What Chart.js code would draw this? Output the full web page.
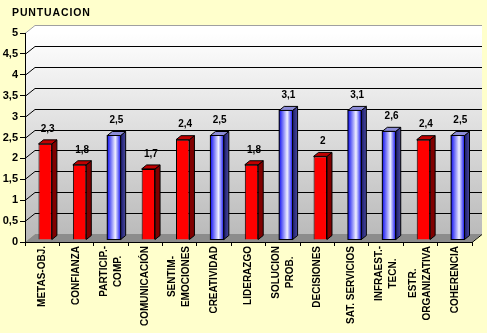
<!DOCTYPE html>
<html><head><meta charset="utf-8">
<script src="https://cdn.jsdelivr.net/npm/chart.js@4/dist/chart.umd.min.js"></script>
<style>html,body{margin:0;padding:0;background:#FFFFCC;} #wrap{width:487px;height:333px;position:relative;}</style>
</head><body><div id="wrap"><canvas id="c" width="487" height="333"></canvas></div>
<script>
const chartTitle = 'PUNTUACION';
const categories = [['METAS-OBJ.'],['CONFIANZA'],['PARTICIP.-','COMP.'],['COMUNICACIÓN'],['SENTIM-','EMOCIONES'],['CREATIVIDAD'],['LIDERAZGO'],['SOLUCION','PROB.'],['DECISIONES'],['SAT. SERVICIOS'],['INFRAEST.-','TECN.'],['ESTR.','ORGANIZATIVA'],['COHERENCIA']];
const scores = [2.3, 1.8, 2.5, 1.7, 2.4, 2.5, 1.8, 3.1, 2, 3.1, 2.6, 2.4, 2.5];
const barKinds = ['red','red','blue','red','red','blue','red','blue','red','blue','blue','red','blue'];
const yTicks = [0, 0.5, 1, 1.5, 2, 2.5, 3, 3.5, 4, 4.5, 5];

const FONT = '"Liberation Sans", Arial, sans-serif';
const WALL_DX = 10, WALL_DY = -8;   // depth of the 3D wall
const BAR_OX = 3, BAR_OY = -2;      // bar placement inside floor
const BAR_DX = 5, BAR_DY = -4;      // bar depth
const fmt = v => String(v).replace('.', ',');

const threeD = {
  id: 'threeD',
  beforeDraw(chart) {
    const {ctx, chartArea: a, scales: {y}} = chart;
    ctx.save();
    ctx.fillStyle = '#FFFFCC';
    ctx.fillRect(0, 0, chart.width, chart.height);
    ctx.fillStyle = '#000';
    ctx.font = 'bold 10.5px ' + FONT;
    ctx.textBaseline = 'middle';
    ctx.textAlign = 'left';
    ctx.fillText(chartTitle.split('').join(String.fromCharCode(8202)), 12, 13);
    const top = y.getPixelForValue(5), bot = y.getPixelForValue(0);
    let g = ctx.createLinearGradient(0, top, 0, bot);
    g.addColorStop(0, '#ffffff'); g.addColorStop(1, '#b8b8b8');
    ctx.fillStyle = g;
    ctx.beginPath();
    ctx.moveTo(a.left, top); ctx.lineTo(a.left + WALL_DX, top + WALL_DY);
    ctx.lineTo(a.left + WALL_DX, bot + WALL_DY); ctx.lineTo(a.left, bot); ctx.closePath(); ctx.fill();
    ctx.fillRect(a.left + WALL_DX, top + WALL_DY, a.right - a.left, bot - top);
    ctx.fillStyle = '#8c8c8c';
    ctx.beginPath();
    ctx.moveTo(a.left, bot); ctx.lineTo(a.left + WALL_DX, bot + WALL_DY);
    ctx.lineTo(a.right + WALL_DX, bot + WALL_DY); ctx.lineTo(a.right, bot); ctx.closePath(); ctx.fill();
    ctx.lineWidth = 1;
    yTicks.forEach(v => {
      if (v === 0) return;
      const py = Math.round(y.getPixelForValue(v)) + 0.5;
      ctx.strokeStyle = v === 5 ? '#a0a0a0' : '#000';
      ctx.beginPath();
      ctx.moveTo(a.left, py); ctx.lineTo(a.left + WALL_DX, py + WALL_DY);
      ctx.lineTo(a.right + WALL_DX, py + WALL_DY);
      ctx.stroke();
    });
    ctx.strokeStyle = '#000';
    ctx.beginPath();
    ctx.moveTo(a.right, Math.round(bot) + 0.5); ctx.lineTo(a.right + WALL_DX, Math.round(bot) + 0.5 + WALL_DY);
    ctx.stroke();
    ctx.restore();
  },
  beforeDatasetDraw(chart) {
    chart.ctx.save();
    chart.ctx.translate(BAR_OX, BAR_OY);
  },
  afterDatasetDraw(chart, args) {
    const ctx = chart.ctx;
    args.meta.data.forEach((bar, i) => {
      const l = bar.x - bar.width / 2, r = bar.x + bar.width / 2, t = bar.y, b = bar.base;
      const blue = barKinds[i] === 'blue';
      ctx.strokeStyle = '#000';
      ctx.lineWidth = 1;
      if (blue) {
        const fg = ctx.createLinearGradient(l, 0, r, 0);
        fg.addColorStop(0, '#1010f0'); fg.addColorStop(0.6, '#f0f0ff'); fg.addColorStop(1, '#1010f0');
        ctx.fillStyle = fg;
        ctx.fillRect(l, t, r - l, b - t);
        ctx.strokeRect(l, t, r - l, b - t);
      }
      let sg;
      if (blue) {
        sg = ctx.createLinearGradient(r, 0, r + BAR_DX, 0);
        sg.addColorStop(0, '#1a1a70'); sg.addColorStop(1, '#4a4a9a');
      } else sg = '#800000';
      ctx.fillStyle = sg;
      ctx.beginPath();
      ctx.moveTo(r, t); ctx.lineTo(r + BAR_DX, t + BAR_DY); ctx.lineTo(r + BAR_DX, b + BAR_DY); ctx.lineTo(r, b); ctx.closePath();
      ctx.fill(); ctx.stroke();
      ctx.fillStyle = blue ? '#8c8cd8' : '#c00000';
      ctx.beginPath();
      ctx.moveTo(l, t); ctx.lineTo(l + BAR_DX, t + BAR_DY); ctx.lineTo(r + BAR_DX, t + BAR_DY); ctx.lineTo(r, t); ctx.closePath();
      ctx.fill(); ctx.stroke();
      ctx.fillStyle = '#000';
      ctx.font = 'bold 10px ' + FONT;
      ctx.textAlign = 'center';
      ctx.textBaseline = 'bottom';
      ctx.fillText(fmt(scores[i]), bar.x + BAR_DX / 2, t + BAR_DY - 6);
    });
    ctx.restore();
  },
  afterDraw(chart) {
    const {ctx, scales: {x}, chartArea: a} = chart;
    ctx.save();
    ctx.fillStyle = '#000';
    ctx.font = 'bold 10px ' + FONT;
    ctx.textBaseline = 'middle';
    ctx.textAlign = 'center';
    const lineH = 14;
    categories.forEach((lines, i) => {
      const cx = x.getPixelForValue(i);
      const w = Math.max(...lines.map(s => ctx.measureText(s).width));
      const cy = a.bottom + 4 + w / 2;
      lines.forEach((s, j) => {
        const lx = cx + (j - (lines.length - 1) / 2) * lineH;
        ctx.save();
        ctx.translate(lx, cy);
        ctx.rotate(-Math.PI / 2);
        ctx.fillText(s, 0, 0);
        ctx.restore();
      });
    });
    ctx.restore();
  }
};

const ctx = document.getElementById('c').getContext('2d');
new Chart(ctx, {
  type: 'bar',
  data: {
    labels: categories,
    datasets: [{
      data: scores,
      backgroundColor: scores.map((v, i) => barKinds[i] === 'blue' ? '#1818f0' : '#ff0000'),
      borderColor: '#000',
      borderWidth: 1,
      barPercentage: 0.78,
      categoryPercentage: 0.5,
      clip: false
    }]
  },
  options: {
    responsive: false,
    animation: false,
    devicePixelRatio: 1,
    layout: {padding: {top: 33, right: 15, left: 0, bottom: 0}},
    plugins: {legend: {display: false}, tooltip: {enabled: false}, title: {display: false}},
    scales: {
      x: {
        offset: true,
        grid: {display: true, drawOnChartArea: false, drawTicks: true, tickLength: 4, offset: true, color: '#000'},
        border: {display: true, color: '#000'},
        ticks: {display: false},
        afterFit: s => { s.height = 91; }
      },
      y: {
        min: 0, max: 5,
        afterBuildTicks: s => { s.ticks = yTicks.map(v => ({value: v})); },
        grid: {display: true, drawOnChartArea: false, drawTicks: true, tickLength: 5, color: '#000'},
        border: {display: true, color: '#000'},
        ticks: {autoSkip: false, color: '#000', font: {family: FONT, size: 11, weight: 'bold'}, padding: 2, callback: v => fmt(v)},
        afterFit: s => { s.width = 25; }
      }
    }
  },
  plugins: [threeD]
});
</script>
</body></html>
